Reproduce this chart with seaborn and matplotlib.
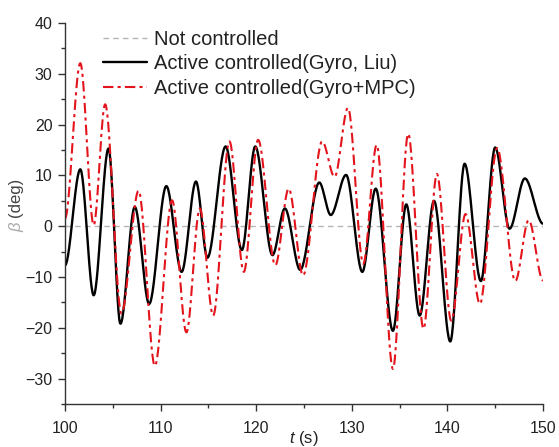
import numpy as np
import pandas as pd
import matplotlib
matplotlib.use("Agg")
import matplotlib.pyplot as plt
from matplotlib.ticker import MultipleLocator
import seaborn as sns

# ---- data (extrema of each trace) ----
t_none = [100, 150]
beta_none = [0, 0]

t_liu = [100, 101.6, 103.0, 104.55, 105.8, 107.3, 108.8, 110.6, 112.2, 113.7,
         114.9, 116.8, 118.5, 119.9, 121.7, 123.0, 124.6, 126.6, 127.8, 129.4,
         131.1, 132.5, 134.3, 135.7, 137.1, 138.6, 140.3, 141.8, 143.5, 145.0,
         146.5, 148.1, 150]
beta_liu = [-7.7, 11.2, -13.6, 15.3, -19.2, 3.8, -15.3, 7.9, -9.0, 8.8,
            -6.2, 15.7, -4.7, 15.7, -5.7, 3.5, -8.6, 8.6, 2.2, 10.1,
            -9.0, 7.4, -20.6, 4.3, -17.6, 5.0, -22.7, 12.3, -10.8, 15.5,
            -0.5, 9.4, 0.5]

t_mpc = [100, 101.6, 103.0, 104.2, 105.9, 107.7, 109.4, 111.2, 112.7, 114.1,
         115.5, 117.2, 118.7, 120.2, 122.0, 123.4, 124.9, 126.9, 128.2, 129.6,
         131.2, 132.6, 134.3, 135.9, 137.5, 138.9, 140.4, 141.9, 143.4, 145.2,
         147.1, 148.5, 150]
beta_mpc = [1.5, 32.1, 0.2, 24.0, -17.2, 7.0, -27.5, 5.1, -20.9, 3.5,
            -17.6, 16.7, -9.0, 17.0, -7.7, 7.4, -9.7, 16.7, 9.7, 23.3,
            -7.4, 16.0, -28.1, 18.2, -20.2, 10.3, -18.6, 2.4, -15.3, 15.4,
            -10.8, 1.2, -10.7]

labels = ["Not controlled", "Active controlled(Gyro, Liu)", "Active controlled(Gyro+MPC)"]
x_ticks = [100, 110, 120, 130, 140, 150]
y_ticks = [-30, -20, -10, 0, 10, 20, 30, 40]


def smooth_path(tk, bk, n=30):
    """Smooth drawing path through the read extrema (flat tangent at each)."""
    ts, bs = [], []
    for i in range(len(tk) - 1):
        s = np.linspace(0, 1, n, endpoint=False)
        w = 3 * s**2 - 2 * s**3
        ts.append(tk[i] + (tk[i + 1] - tk[i]) * s)
        bs.append(bk[i] + (bk[i + 1] - bk[i]) * w)
    ts.append([tk[-1]])
    bs.append([bk[-1]])
    return np.concatenate(ts), np.concatenate(bs)


sns.set_style("ticks")
plt.rcParams["font.family"] = ["Liberation Sans", "DejaVu Sans"]
plt.rcParams["mathtext.fontset"] = "custom"
plt.rcParams["mathtext.rm"] = "Liberation Sans"
plt.rcParams["mathtext.it"] = "Liberation Sans:italic"

fig = plt.figure(figsize=(5.59, 4.47), dpi=100)
W, H = 559, 447
ax = fig.add_axes([65 / W, 1 - 404 / H, (543 - 65) / W, (404 - 23) / H])

df_none = pd.DataFrame({"t": t_none, "beta": beta_none})
tl, bl = smooth_path(t_liu, beta_liu)
df_liu = pd.DataFrame({"t": tl, "beta": bl})
tm, bm = smooth_path(t_mpc, beta_mpc)
df_mpc = pd.DataFrame({"t": tm, "beta": bm})

sns.lineplot(data=df_none, x="t", y="beta", ax=ax, color="#b4b4b4", lw=1.0,
             label=labels[0], sort=False)
sns.lineplot(data=df_liu, x="t", y="beta", ax=ax, color="black", lw=1.7,
             label=labels[1], sort=False)
sns.lineplot(data=df_mpc, x="t", y="beta", ax=ax, color="#e4141c", lw=1.5,
             label=labels[2], sort=False)
ax.lines[0].set_linestyle((0, (4, 3)))
ax.lines[2].set_linestyle((0, (5, 2, 1.5, 2)))

ax.set_xlim(100, 150)
ax.set_ylim(-35, 40)
ax.set_xticks(x_ticks)
ax.set_yticks(y_ticks)
ax.xaxis.set_minor_locator(MultipleLocator(5))
ax.yaxis.set_minor_locator(MultipleLocator(5))
ax.tick_params(which="major", direction="out", length=5, width=1, color="#333333",
               labelsize=11.5, labelcolor="#222222", pad=4)
ax.tick_params(axis="x", which="major", pad=7)
ax.tick_params(which="minor", direction="out", length=3, width=1, color="#333333")
for side in ["top", "right"]:
    ax.spines[side].set_visible(False)
for side in ["left", "bottom"]:
    ax.spines[side].set_color("#333333")
    ax.spines[side].set_linewidth(1)

ax.set_xlabel("")
ax.set_ylabel("")
fig.text(304 / W, 1 - 438 / H, r"$t$ (s)", ha="center", va="center",
         fontsize=12, color="#222222")
fig.text(16 / W, 1 - 226 / H, r"$\beta$", rotation=90, ha="center", va="center",
         fontsize=12, color="#aaaaaa")
fig.text(16 / W, 1 - 197 / H, "(deg)", rotation=90, ha="center", va="center",
         fontsize=12, color="#444444")

leg = ax.legend(loc="upper left", bbox_to_anchor=(103 / W, 1 - 30 / H),
                bbox_transform=fig.transFigure, frameon=False, fontsize=14.5,
                handlelength=2.2, handletextpad=0.35, labelspacing=0.27,
                borderpad=0, borderaxespad=0)
for txt in leg.get_texts():
    txt.set_color("#222222")

fig.savefig("out.png", dpi=100)
